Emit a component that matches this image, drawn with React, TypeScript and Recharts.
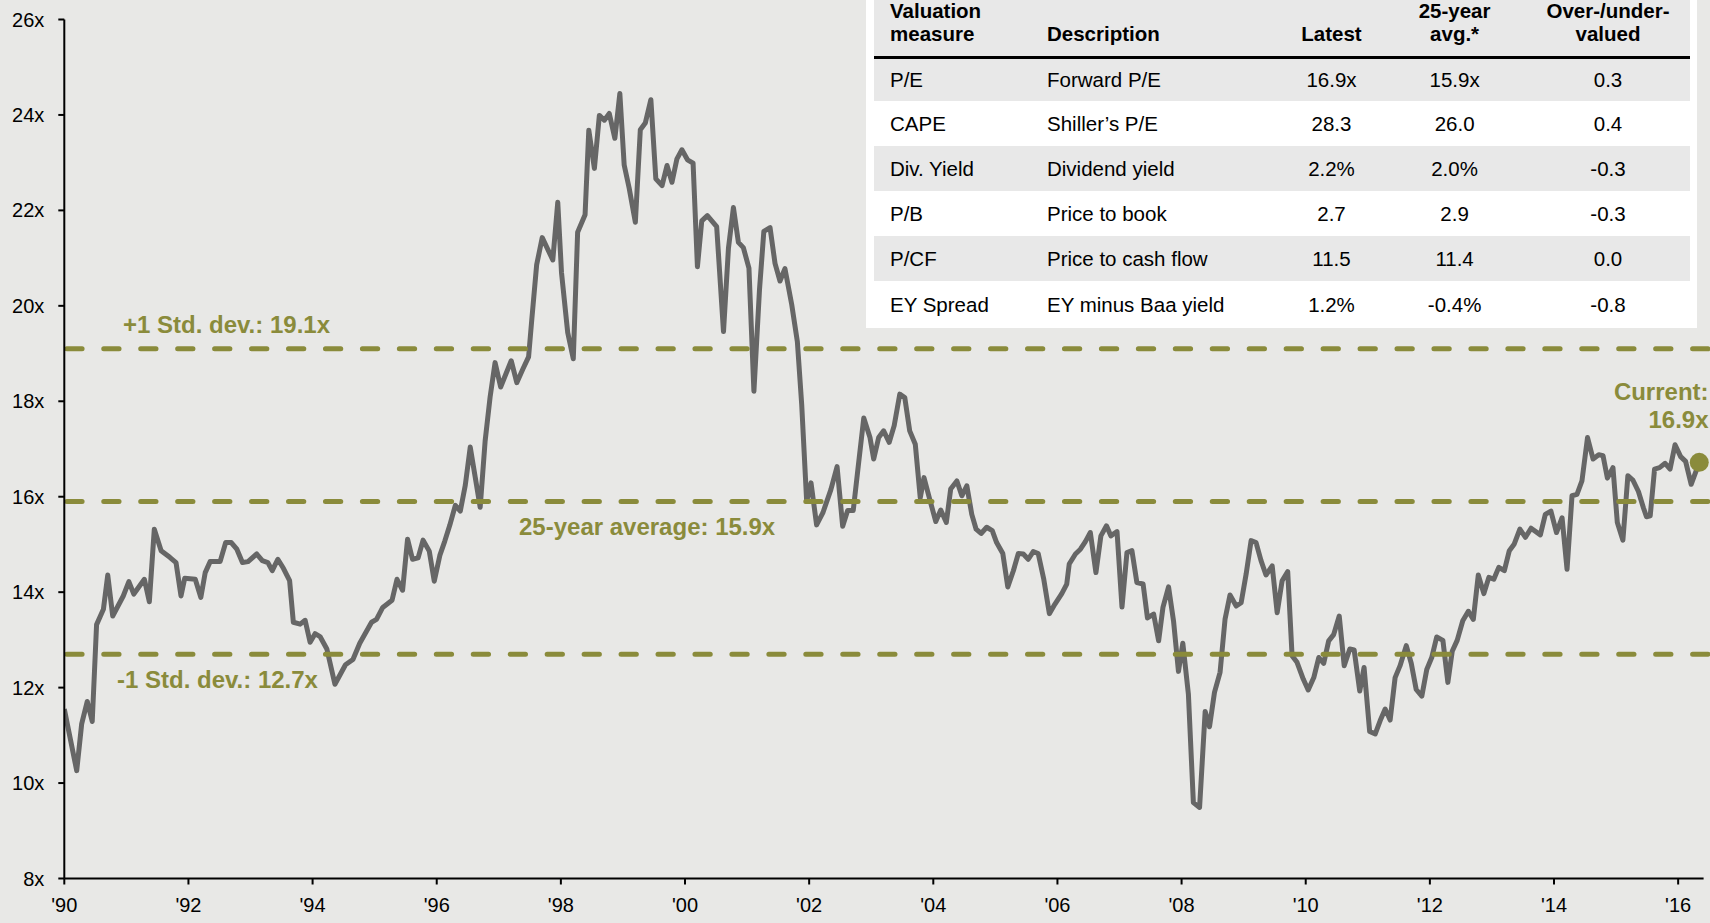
import React from 'react';
import { LineChart, Line, XAxis, YAxis, ReferenceLine, ReferenceDot } from 'recharts';

// ---- data ----
const dates = [
  1990.00, 1990.20, 1990.28, 1990.37, 1990.45, 1990.52, 1990.63, 1990.70, 1990.78, 1990.95,
  1991.04, 1991.12, 1991.29, 1991.37, 1991.45, 1991.56, 1991.70, 1991.80, 1991.88, 1991.94,
  1992.11, 1992.20, 1992.27, 1992.35, 1992.51, 1992.60, 1992.69, 1992.78, 1992.87, 1992.96,
  1993.10, 1993.19, 1993.28, 1993.35, 1993.44, 1993.53, 1993.63, 1993.69, 1993.80, 1993.88,
  1993.96, 1994.04, 1994.12, 1994.23, 1994.36, 1994.53, 1994.65, 1994.76, 1994.95, 1995.03,
  1995.13, 1995.28, 1995.36, 1995.45, 1995.53, 1995.61, 1995.70, 1995.78, 1995.88, 1995.96,
  1996.05, 1996.13, 1996.21, 1996.30, 1996.38, 1996.46, 1996.54, 1996.62, 1996.70, 1996.78,
  1996.86, 1996.94, 1997.03, 1997.20, 1997.29, 1997.39, 1997.48, 1997.53, 1997.61, 1997.70,
  1997.87, 1997.95, 1998.01, 1998.11, 1998.20, 1998.27, 1998.39, 1998.45, 1998.54, 1998.62,
  1998.70, 1998.78, 1998.87, 1998.95, 1999.02, 1999.10, 1999.20, 1999.28, 1999.36, 1999.45,
  1999.53, 1999.63, 1999.71, 1999.79, 1999.87, 1999.95, 2000.04, 2000.13, 2000.20, 2000.27,
  2000.36, 2000.51, 2000.62, 2000.70, 2000.78, 2000.86, 2000.94, 2001.03, 2001.11, 2001.20,
  2001.27, 2001.37, 2001.45, 2001.53, 2001.61, 2001.72, 2001.81, 2001.88, 2001.96, 2002.03,
  2002.12, 2002.22, 2002.35, 2002.45, 2002.54, 2002.62, 2002.71, 2002.79, 2002.88, 2002.98,
  2003.04, 2003.12, 2003.20, 2003.29, 2003.37, 2003.46, 2003.54, 2003.62, 2003.71, 2003.79,
  2003.85, 2003.95, 2004.04, 2004.12, 2004.21, 2004.28, 2004.38, 2004.46, 2004.54, 2004.62,
  2004.69, 2004.77, 2004.86, 2004.95, 2005.02, 2005.12, 2005.20, 2005.29, 2005.37, 2005.45,
  2005.53, 2005.61, 2005.69, 2005.78, 2005.87, 2005.96, 2006.07, 2006.15, 2006.19, 2006.29,
  2006.37, 2006.45, 2006.53, 2006.62, 2006.70, 2006.79, 2006.86, 2006.96, 2007.04, 2007.12,
  2007.20, 2007.28, 2007.38, 2007.45, 2007.55, 2007.63, 2007.70, 2007.79, 2007.87, 2007.95,
  2008.02, 2008.11, 2008.19, 2008.29, 2008.38, 2008.45, 2008.53, 2008.62, 2008.70, 2008.78,
  2008.88, 2008.96, 2009.04, 2009.12, 2009.20, 2009.28, 2009.36, 2009.46, 2009.54, 2009.62,
  2009.71, 2009.78, 2009.86, 2009.96, 2010.04, 2010.13, 2010.21, 2010.29, 2010.37, 2010.45,
  2010.54, 2010.62, 2010.71, 2010.78, 2010.87, 2010.94, 2011.03, 2011.12, 2011.20, 2011.28,
  2011.36, 2011.44, 2011.52, 2011.62, 2011.70, 2011.78, 2011.87, 2011.95, 2012.03, 2012.11,
  2012.21, 2012.29, 2012.36, 2012.44, 2012.53, 2012.62, 2012.70, 2012.78, 2012.87, 2012.95,
  2013.03, 2013.11, 2013.20, 2013.28, 2013.36, 2013.45, 2013.54, 2013.63, 2013.78, 2013.86,
  2013.95, 2014.04, 2014.13, 2014.21, 2014.29, 2014.37, 2014.45, 2014.54, 2014.63, 2014.72,
  2014.79, 2014.86, 2014.95, 2015.02, 2015.11, 2015.19, 2015.27, 2015.36, 2015.44, 2015.49,
  2015.55, 2015.62, 2015.70, 2015.79, 2015.87, 2015.95, 2016.04, 2016.12, 2016.21, 2016.34,
];

const forwardPE = [
  11.55, 10.26, 11.24, 11.71, 11.29, 13.32, 13.64, 14.36, 13.50, 13.92,
  14.22, 13.96, 14.27, 13.80, 15.32, 14.87, 14.73, 14.62, 13.92, 14.29,
  14.27, 13.89, 14.41, 14.64, 14.64, 15.04, 15.04, 14.90, 14.62, 14.64,
  14.80, 14.66, 14.62, 14.45, 14.69, 14.50, 14.24, 13.37, 13.33, 13.41,
  12.95, 13.13, 13.07, 12.81, 12.07, 12.48, 12.59, 12.93, 13.37, 13.43,
  13.68, 13.83, 14.27, 14.04, 15.11, 14.69, 14.72, 15.09, 14.86, 14.23,
  14.77, 15.07, 15.40, 15.82, 15.70, 16.24, 17.04, 16.41, 15.78, 17.17,
  18.09, 18.81, 18.30, 18.85, 18.39, 18.68, 18.93, 19.69, 20.86, 21.43,
  20.96, 22.17, 20.70, 19.44, 18.89, 21.54, 21.91, 23.68, 22.88, 23.99,
  23.89, 24.03, 23.51, 24.45, 22.95, 22.47, 21.75, 23.69, 23.83, 24.32,
  22.66, 22.52, 22.94, 22.59, 23.08, 23.27, 23.06, 22.99, 20.82, 21.78,
  21.89, 21.66, 19.46, 21.21, 22.06, 21.33, 21.22, 20.79, 18.21, 20.34,
  21.56, 21.64, 20.89, 20.52, 20.78, 20.02, 19.25, 17.93, 15.90, 16.29,
  15.41, 15.66, 16.15, 16.63, 15.38, 15.71, 15.71, 16.63, 17.65, 17.24,
  16.79, 17.24, 17.38, 17.14, 17.49, 18.15, 18.08, 17.38, 17.10, 15.98,
  16.40, 15.91, 15.48, 15.72, 15.46, 16.16, 16.33, 16.02, 16.23, 15.63,
  15.32, 15.23, 15.36, 15.29, 15.04, 14.81, 14.11, 14.45, 14.81, 14.80,
  14.69, 14.85, 14.81, 14.27, 13.55, 13.75, 13.97, 14.17, 14.59, 14.80,
  14.90, 15.06, 15.25, 14.41, 15.18, 15.39, 15.18, 15.27, 13.69, 14.83,
  14.87, 14.20, 14.17, 13.46, 13.54, 12.98, 13.68, 14.11, 13.40, 12.34,
  12.93, 11.86, 9.59, 9.49, 11.50, 11.18, 11.90, 12.32, 13.43, 13.94,
  13.71, 13.78, 14.38, 15.08, 15.04, 14.66, 14.36, 14.55, 13.57, 14.24,
  14.43, 12.67, 12.53, 12.18, 11.95, 12.21, 12.63, 12.51, 12.98, 13.11,
  13.50, 12.46, 12.81, 12.79, 11.93, 12.42, 11.08, 11.03, 11.31, 11.55,
  11.32, 12.21, 12.46, 12.88, 12.51, 11.96, 11.82, 12.38, 12.63, 13.06,
  12.99, 12.11, 12.76, 12.99, 13.40, 13.60, 13.43, 14.36, 13.97, 14.31,
  14.27, 14.52, 14.45, 14.87, 15.01, 15.32, 15.15, 15.34, 15.20, 15.63,
  15.70, 15.25, 15.56, 14.48, 16.02, 16.05, 16.33, 17.24, 16.79, 16.88,
  16.86, 16.39, 16.61, 15.46, 15.09, 16.44, 16.35, 16.11, 15.77, 15.58,
  15.60, 16.58, 16.61, 16.70, 16.58, 17.09, 16.84, 16.74, 16.26, 16.72,
];

const xTicks = [1990, 1992, 1994, 1996, 1998, 2000, 2002, 2004, 2006, 2008, 2010, 2012, 2014, 2016];
const xTickLabels = ["'90", "'92", "'94", "'96", "'98", "'00", "'02", "'04", "'06", "'08", "'10", "'12", "'14", "'16"];
const yTicks = [8, 10, 12, 14, 16, 18, 20, 22, 24, 26];
const xDomain = [1990, 2016.41];
const yDomain = [8, 26];
const lineEndYear = 2016.52;

const bandValues = [19.1, 15.9, 12.7];
const bandLabels = ['+1 Std. dev.: 19.1x', '25-year average: 15.9x', '-1 Std. dev.: 12.7x'];
const currentLabel = ['Current:', '16.9x'];

// table
const tableHeaders = [['Valuation', 'measure'], ['Description'], ['Latest'], ['25-year', 'avg.*'], ['Over-/under-', 'valued']];
const measures = ['P/E', 'CAPE', 'Div. Yield', 'P/B', 'P/CF', 'EY Spread'];
const descriptions = ['Forward P/E', 'Shiller\u2019s P/E', 'Dividend yield', 'Price to book', 'Price to cash flow', 'EY minus Baa yield'];
const latestValues = ['16.9x', '28.3', '2.2%', '2.7', '11.5', '1.2%'];
const avgValues = ['15.9x', '26.0', '2.0%', '2.9', '11.4', '-0.4%'];
const overUnder = ['0.3', '0.4', '-0.3', '-0.3', '0.0', '-0.8'];

// ---- styles ----
const FONT = "'Liberation Sans', Arial, Helvetica, sans-serif";
const BG = '#e8e8e6';
const BAND = '#e8e8e8';
const OLIVE = '#8a8b3b';
const LINE = '#666666';

const chartData = dates.map((t, i) => ({ t, pe: forwardPE[i] }));

// label placement relative to each reference line (dx from start, dy baseline)
const bandLabelPos = [
  { dx: 58.7, dy: -16 },
  { dx: 454.7, dy: 33.5 },
  { dx: 52.7, dy: 34 },
];

const makeBandLabel = (idx: number) => (props: any) => {
  const vb = props.viewBox || {};
  const p = bandLabelPos[idx];
  return (
    <text
      x={vb.x + p.dx}
      y={vb.y + p.dy}
      fill={OLIVE}
      fontFamily={FONT}
      fontSize={24}
      fontWeight="bold"
      textAnchor="start"
    >
      {bandLabels[idx]}
    </text>
  );
};

const currentLabelRender = (props: any) => {
  const vb = props.viewBox || {};
  const cx = vb.x + vb.width / 2;
  const cy = vb.y + vb.height / 2;
  return (
    <g>
      <text x={cx + 9.3} y={cy - 62.5} fill={OLIVE} fontFamily={FONT} fontSize={24} fontWeight="bold" textAnchor="end">
        {currentLabel[0]}
      </text>
      <text x={cx + 9.3} y={cy - 34} fill={OLIVE} fontFamily={FONT} fontSize={24} fontWeight="bold" textAnchor="end">
        {currentLabel[1]}
      </text>
    </g>
  );
};

const colCenters = [465.5, 588.6, 742];
const rowTops = [58.5, 100.5, 146, 191, 236, 281];
const rowHeights = [42, 45.5, 45, 45, 45, 47];

function ValuationTable() {
  const cellText: React.CSSProperties = { fontFamily: FONT, fontSize: 20.5, color: '#000', whiteSpace: 'nowrap', lineHeight: '23.5px' };
  const headLine: React.CSSProperties = { height: 20.5, lineHeight: '20.5px' };
  return (
    <div style={{ position: 'absolute', left: 866, top: 0, width: 831, height: 328, background: '#fff' }}>
      <div style={{ position: 'absolute', left: 7.5, top: 0, width: 816.5, height: 56, background: BAND }} />
      {/* header */}
      {tableHeaders.map((lines, ci) => {
        const top = lines.length === 2 ? 0.5 : 24;
        const style: React.CSSProperties = { ...cellText, fontWeight: 'bold', position: 'absolute', top };
        const content = lines.map((l, k) => (
          <div key={k} style={{ ...headLine, marginTop: k === 0 ? 0 : 3 }}>{l}</div>
        ));
        if (ci === 0) return <div key={ci} style={{ ...style, left: 24 }}>{content}</div>;
        if (ci === 1) return <div key={ci} style={{ ...style, left: 181 }}>{content}</div>;
        const c = colCenters[ci - 2];
        return (
          <div key={ci} style={{ ...style, left: c - 80, width: 160, textAlign: 'center' }}>
            {content}
          </div>
        );
      })}
      <div style={{ position: 'absolute', left: 7.5, top: 55.5, width: 816.5, height: 3, background: '#000' }} />
      {measures.map((m, ri) => {
        const rowStyle: React.CSSProperties = {
          position: 'absolute', left: 7.5, top: rowTops[ri], width: 816.5, height: rowHeights[ri],
          background: ri % 2 === 0 ? BAND : '#fff',
        };
        const cell = (left: number, width: number | undefined, align: 'left' | 'center', text: string, key: string) => (
          <div key={key} style={{ ...cellText, position: 'absolute', top: 0, height: rowHeights[ri], left, width, display: 'flex', alignItems: 'center', justifyContent: align === 'center' ? 'center' : 'flex-start' }}>
            {text}
          </div>
        );
        return (
          <div key={ri} style={rowStyle}>
            {cell(24 - 7.5, undefined, 'left', m, 'm')}
            {cell(181 - 7.5, undefined, 'left', descriptions[ri], 'd')}
            {cell(colCenters[0] - 7.5 - 60, 120, 'center', latestValues[ri], 'l')}
            {cell(colCenters[1] - 7.5 - 60, 120, 'center', avgValues[ri], 'a')}
            {cell(colCenters[2] - 7.5 - 60, 120, 'center', overUnder[ri], 'o')}
          </div>
        );
      })}
    </div>
  );
}

export default function App() {
  const last = chartData.length - 1;
  return (
    <div style={{ position: 'relative', width: 1710, height: 923, background: BG, overflow: 'hidden', fontFamily: FONT }}>
      <style>{`body{margin:0;background:${BG};}`}</style>
      <LineChart
        width={1710}
        height={923}
        data={chartData}
        margin={{ top: 19.5, right: 6.4, bottom: 4.5, left: 0 }}
      >
        <XAxis
          dataKey="t"
          type="number"
          domain={xDomain}
          ticks={xTicks}
          interval={0}
          allowDataOverflow
          tickFormatter={(v: number) => xTickLabels[xTicks.indexOf(v)] ?? ''}
          height={40}
          tickSize={6}
          tickMargin={13}
          axisLine={{ stroke: '#000', strokeWidth: 2 }}
          tickLine={{ stroke: '#000', strokeWidth: 2 }}
          tick={{ fill: '#000', fontSize: 20, fontFamily: FONT }}
        />
        <YAxis
          type="number"
          domain={yDomain}
          ticks={yTicks}
          interval={0}
          allowDataOverflow
          tickFormatter={(v: number) => `${v}x`}
          width={64.3}
          tickSize={6}
          tickMargin={14}
          axisLine={{ stroke: '#000', strokeWidth: 2 }}
          tickLine={{ stroke: '#000', strokeWidth: 2 }}
          tick={{ fill: '#000', fontSize: 20, fontFamily: FONT }}
        />
        <Line
          type="linear"
          dataKey="pe"
          stroke={LINE}
          strokeWidth={5}
          strokeLinejoin="round"
          dot={false}
          activeDot={false}
          isAnimationActive={false}
        />
        {bandValues.map((v, i) => (
          <ReferenceLine
            key={v}
            segment={[{ x: xDomain[0], y: v }, { x: lineEndYear, y: v }]}
            ifOverflow="visible"
            stroke={OLIVE}
            strokeWidth={5}
            strokeDasharray="15.3 21.65"
            strokeDashoffset={34.45}
            strokeLinecap="round"
            label={makeBandLabel(i)}
          />
        ))}
        <ReferenceDot
          x={dates[last]}
          y={forwardPE[last]}
          r={9.5}
          fill={OLIVE}
          stroke="none"
          ifOverflow="visible"
          label={currentLabelRender}
        />
      </LineChart>
      <ValuationTable />
    </div>
  );
}
